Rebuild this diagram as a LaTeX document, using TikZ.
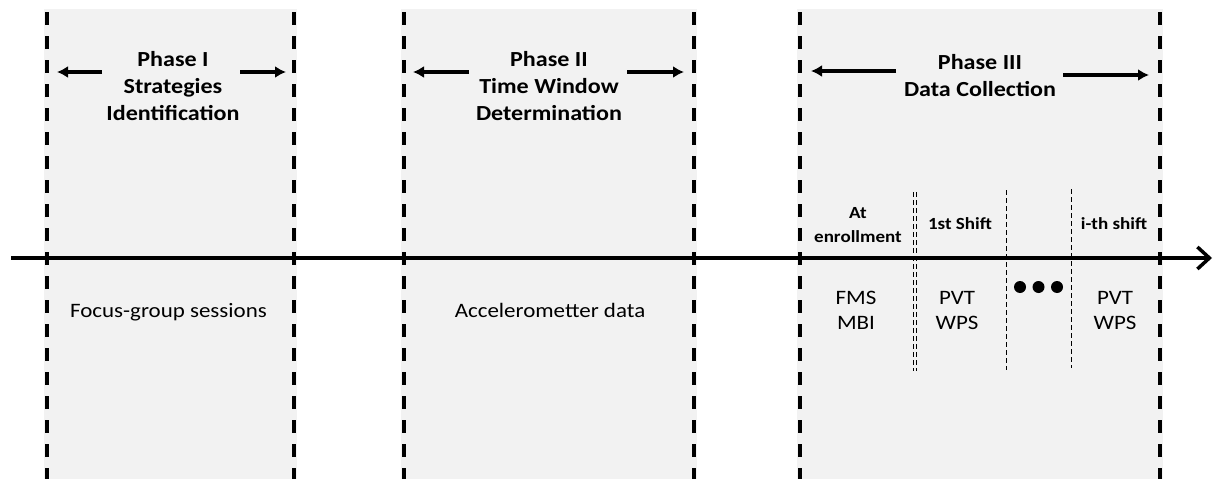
\documentclass[tikz,border=0pt]{standalone}
\usepackage{fontspec}
\setmainfont{Carlito}[FakeStretch=1.12]
\usetikzlibrary{arrows.meta}
\definecolor{panelgray}{HTML}{F2F2F2}
\begin{document}
\begin{tikzpicture}[x=1pt,y=-1pt,
  panel/.style={fill=panelgray,draw=none},
  phaseline/.style={line width=3.5pt,dash pattern=on 13pt off 11pt},
  subline/.style={line width=0.9pt,dash pattern=on 5pt off 3pt},
  phasearrow/.style={line width=3.5pt,-{Latex[length=11pt,width=12pt]}},
  axis/.style={line width=3.5pt,-{Straight Barb[length=12pt,width=22pt]}},
  title/.style={font=\fontsize{21.5}{27}\selectfont\bfseries,align=center,inner sep=0pt},
  body/.style={font=\fontsize{20.5}{25}\selectfont,align=center,inner sep=0pt},
  sub/.style={font=\fontsize{17}{24}\selectfont\bfseries,align=center,inner sep=0pt},
  dot/.style={circle,fill=black,minimum size=12pt,inner sep=0pt},
]
\useasboundingbox (0,0) rectangle (1215,479);
% panels
\fill[panel] (44,9) rectangle (297,479);
\fill[panel] (401,9) rectangle (697,479);
\fill[panel] (797,9) rectangle (1163,479);
% phase boundaries
\coordinate (p1lt) at (47,12);   \coordinate (p1lb) at (47,479);
\coordinate (p1rt) at (294,12);  \coordinate (p1rb) at (294,479);
\coordinate (p2lt) at (404,12);  \coordinate (p2lb) at (404,479);
\coordinate (p2rt) at (694,12);  \coordinate (p2rb) at (694,479);
\coordinate (p3lt) at (800,12);  \coordinate (p3lb) at (800,479);
\coordinate (p3rt) at (1160,12); \coordinate (p3rb) at (1160,479);
\foreach \a/\b in {p1lt/p1lb,p1rt/p1rb,p2lt/p2lb,p2rt/p2rb,p3lt/p3lb,p3rt/p3rb}
  \draw[phaseline] (\a) -- (\b);
% sub dividers in phase III
\coordinate (d1at) at (913,192);  \coordinate (d1ab) at (913,371);
\coordinate (d1bt) at (916.5,192);\coordinate (d1bb) at (916.5,371);
\coordinate (d2t) at (1006,190);  \coordinate (d2b) at (1006,370);
\coordinate (d3t) at (1071,189);  \coordinate (d3b) at (1071,368);
\draw[subline] (d1at) -- (d1ab);
\draw[subline] (d1bt) -- (d1bb);
\draw[subline] (d2t) -- (d2b);
\draw[subline] (d3t) -- (d3b);
% time axis
\coordinate (axS) at (11,258);
\coordinate (axE) at (1212,258);
\draw[axis] (axS) -- (axE);
% phase titles
\node[title] (t1) at (173,86) {Phase I\\Strategies\\Identification};
\node[title] (t2) at (549,86) {Phase II\\Time Window\\Determination};
\node[title] (t3) at (980,76) {Phase III\\Data Collection};
% phase arrows
\coordinate (a1lt) at (102,72);  \coordinate (a1lh) at (57,72);
\coordinate (a1rt) at (240,72);  \coordinate (a1rh) at (286,72);
\coordinate (a2lt) at (469,72);  \coordinate (a2lh) at (413,72);
\coordinate (a2rt) at (627,72);  \coordinate (a2rh) at (684,72);
\coordinate (a3lt) at (896,71);  \coordinate (a3lh) at (811,71);
\coordinate (a3rt) at (1063,75); \coordinate (a3rh) at (1149,75);
\foreach \a/\b in {a1lt/a1lh,a1rt/a1rh,a2lt/a2lh,a2rt/a2rh,a3lt/a3lh,a3rt/a3rh}
  \draw[phasearrow] (\a) -- (\b);
% body texts
\node[body,anchor=base] (fg) at (168.5,317) {Focus-group sessions};
\node[body,anchor=base] (acc) at (550,317) {Accelerometter data};
% phase III sub labels
\node[sub] (enr) at (858,225) {At\\enrollment};
\node[sub,anchor=base] (s1) at (960,229) {1st Shift};
\node[sub,anchor=base] (si) at (1114,229) {i-th shift};
\node[body] (m1) at (856,310) {FMS\\MBI};
\node[body] (m2) at (957,310) {PVT\\WPS};
\node[body] (m3) at (1115,310) {PVT\\WPS};
% dots
\node[dot] (o1) at (1020,287) {};
\node[dot] (o2) at (1038.5,287) {};
\node[dot] (o3) at (1057,287) {};
\end{tikzpicture}
\end{document}
